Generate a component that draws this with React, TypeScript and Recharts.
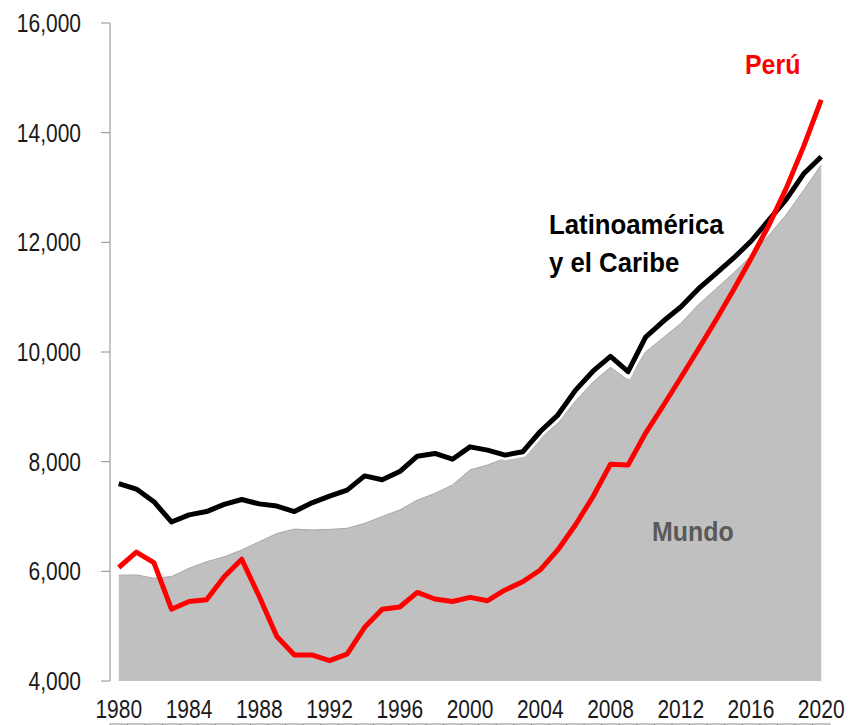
import { ComposedChart, Area, Line, XAxis, YAxis } from 'recharts'

// GDP per capita, 1980-2020
const years = [
  1980, 1981, 1982, 1983, 1984, 1985, 1986, 1987, 1988, 1989,
  1990, 1991, 1992, 1993, 1994, 1995, 1996, 1997, 1998, 1999,
  2000, 2001, 2002, 2003, 2004, 2005, 2006, 2007, 2008, 2009,
  2010, 2011, 2012, 2013, 2014, 2015, 2016, 2017, 2018, 2019, 2020,
]

const latam = [
  7600, 7500, 7270, 6900, 7030, 7090, 7220, 7310, 7230, 7190,
  7090, 7250, 7370, 7480, 7740, 7670, 7820, 8100, 8150, 8045,
  8270, 8210, 8120, 8180, 8550, 8850, 9300, 9650, 9920, 9640,
  10270, 10560, 10820, 11150, 11430, 11710, 12020, 12400, 12780, 13250, 13560,
]

const mundo = [
  5930, 5935, 5875, 5905, 6055, 6175, 6265, 6390, 6540, 6690,
  6770, 6755, 6765, 6785, 6875, 7000, 7120, 7300, 7420, 7575,
  7850, 7940, 8060, 8180, 8430, 8700, 9100, 9450, 9720, 9490,
  10000, 10260, 10520, 10860, 11150, 11440, 11750, 12120, 12500, 12950, 13410,
]

const peru = [
  6070, 6350, 6160, 5310, 5450, 5480, 5900, 6220, 5540, 4810,
  4475, 4475, 4370, 4490, 4980, 5310, 5350, 5615, 5495, 5450,
  5525, 5465, 5660, 5810, 6025, 6390, 6845, 7360, 7955, 7940,
  8520, 9020, 9530, 10050, 10580, 11130, 11700, 12300, 12980, 13750, 14600,
]

const yearLabels = [1980, 1984, 1988, 1992, 1996, 2000, 2004, 2008, 2012, 2016, 2020]
const yTicks = [4000, 6000, 8000, 10000, 12000, 14000, 16000]

const data = years.map((year, i) => ({
  year,
  latam: latam[i],
  mundo: mundo[i],
  peru: peru[i],
}))

// tick marks sit between the years, like the original
const boundaryTicks = [...years.map((y) => y - 0.5), years[years.length - 1] + 0.5]

const font = '"Liberation Sans", Arial, sans-serif'
const axisColor = '#8c8c8c'
const labelColor = '#1a1a1a'

// narrow-looking tick text (original uses a condensed face)
function YTick(props: any) {
  const { x, y, payload } = props
  return (
    <text
      transform={`translate(${x},${y}) scale(0.84,1)`}
      textAnchor="end"
      dy="0.36em"
      fill={labelColor}
      fontSize={25}
      fontFamily={font}
    >
      {Number(payload.value).toLocaleString('en-US')}
    </text>
  )
}

function XTick(props: any) {
  const { x, y, payload } = props
  return (
    <text
      transform={`translate(${x},${y}) scale(0.84,1)`}
      textAnchor="middle"
      dy="0.36em"
      fill={labelColor}
      fontSize={25}
      fontFamily={font}
    >
      {payload.value}
    </text>
  )
}

const note = {
  position: 'absolute' as const,
  fontSize: 28,
  fontWeight: 'bold' as const,
  fontFamily: font,
  transform: 'scaleX(0.89)',
  transformOrigin: 'left top',
  whiteSpace: 'nowrap' as const,
}

export default function App() {
  return (
    <div style={{ position: 'absolute', left: 0, top: 0, width: 848, height: 725, background: '#fff', fontFamily: font }}>
      <ComposedChart width={848} height={725} data={data} margin={{ top: 23, right: 18, bottom: 0, left: 0 }}>
        <XAxis
          xAxisId="marks"
          dataKey="year"
          type="number"
          domain={[1979.5, 2020.5]}
          ticks={boundaryTicks}
          interval={0}
          tickFormatter={() => ''}
          stroke={axisColor}
          tickSize={7}
          height={1}
        />
        <XAxis
          xAxisId="labels"
          dataKey="year"
          type="number"
          domain={[1979.5, 2020.5]}
          ticks={yearLabels}
          interval={0}
          axisLine={false}
          tickLine={false}
          tickSize={0}
          tickMargin={28}
          height={43}
          tick={<XTick />}
        />
        <YAxis
          type="number"
          domain={[4000, 16000]}
          ticks={yTicks}
          interval={0}
          width={110}
          stroke={axisColor}
          tickSize={9}
          tickMargin={20}
          tick={<YTick />}
        />
        <Area
          xAxisId="marks"
          type="linear"
          dataKey="mundo"
          fill="#c0c0c0"
          fillOpacity={1}
          stroke="#a8a8a8"
          strokeWidth={1}
          isAnimationActive={false}
        />
        <Line
          xAxisId="marks"
          type="linear"
          dataKey="latam"
          stroke="#ffffff"
          strokeWidth={10}
          dot={false}
          activeDot={false}
          isAnimationActive={false}
        />
        <Line
          xAxisId="marks"
          type="linear"
          dataKey="latam"
          stroke="#000000"
          strokeWidth={5}
          strokeLinejoin="round"
          dot={false}
          activeDot={false}
          isAnimationActive={false}
        />
        <Line
          xAxisId="marks"
          type="linear"
          dataKey="peru"
          stroke="#ff0000"
          strokeWidth={5}
          strokeLinejoin="round"
          dot={false}
          activeDot={false}
          isAnimationActive={false}
        />
      </ComposedChart>

      <div style={{ ...note, left: 745, top: 51, color: '#ff0000', lineHeight: 1 }}>Perú</div>
      <div style={{ ...note, left: 549, top: 206, color: '#000', lineHeight: '38px', transform: 'scaleX(0.92)' }}>
        Latinoamérica
        <br />
        y el Caribe
      </div>
      <div style={{ ...note, left: 652, top: 518, color: '#595959', lineHeight: 1 }}>Mundo</div>
    </div>
  )
}
